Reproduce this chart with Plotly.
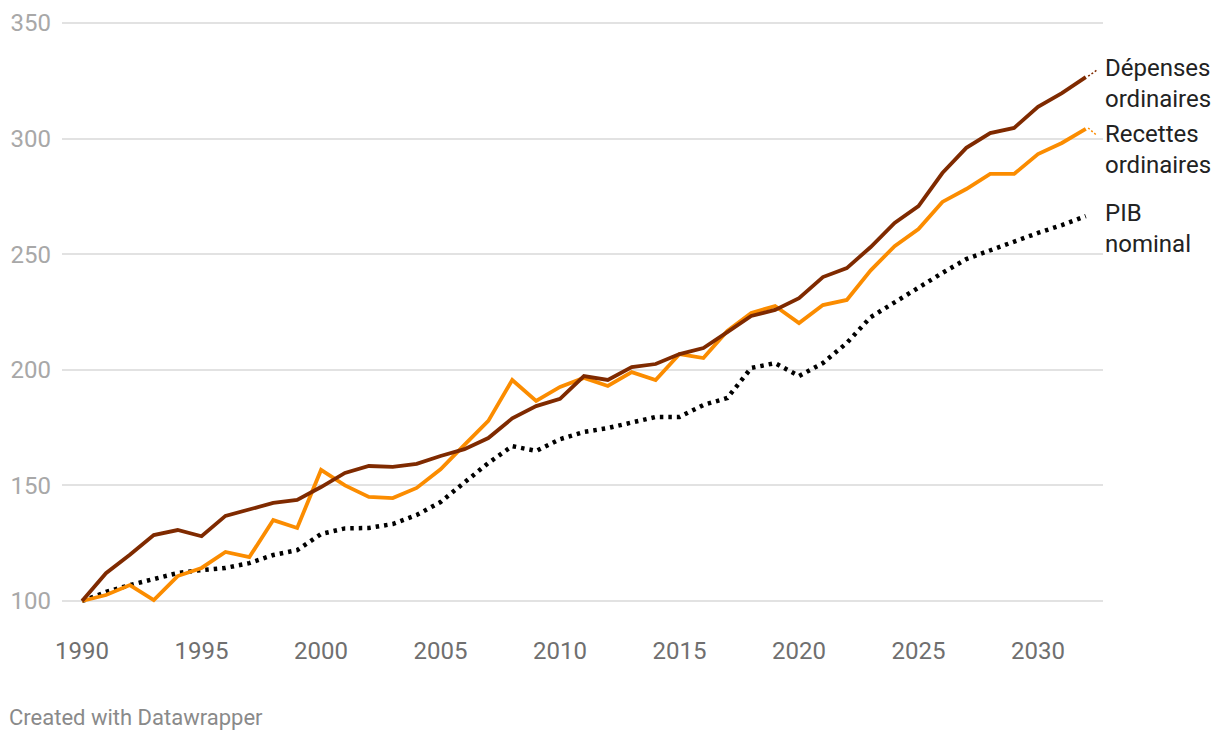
import plotly.graph_objects as go

years = list(range(1990, 2033))

depenses = [100, 112, 120, 128.5, 130.7, 128, 136.8, 139.8, 142.4, 143.7,
            149.3, 155.4, 158.4, 158, 159.3, 162.7, 165.7, 170.5, 179, 184.3,
            187.4, 197.3, 195.6, 201.2, 202.5, 206.8, 209.4, 216.3, 223.3, 225.9,
            231, 240.1, 244, 253.1, 263.5, 270.8, 285.1, 296, 302.4, 304.6,
            313.7, 319.7, 326.6]

recettes = [100, 102.6, 106.9, 100.4, 110.8, 114.3, 121.2, 119, 135, 131.6,
            156.7, 150, 145, 144.5, 148.9, 157, 167.5, 177.9, 195.6, 186.5,
            192.6, 196.5, 193, 199, 195.6, 206.8, 205.1, 216.8, 224.6, 227.6,
            220.2, 228, 230.2, 243, 253.5, 260.9, 272.6, 278.2, 284.7, 284.7,
            293.3, 298.1, 304.2]

pib = [100, 103.9, 106.9, 109.5, 112.1, 113.4, 114.3, 116.4, 119.9, 122,
       129, 131.4, 131.6, 133.3, 137.2, 142.8, 151.5, 159.7, 167, 164.9,
       170, 173.1, 174.8, 177.4, 179.6, 179.6, 184.8, 187.8, 200.8, 202.9,
       197.3, 202.9, 211.6, 222.8, 229.3, 235.4, 241.9, 247.9, 251.8, 255.3,
       259.2, 262.6, 266.5]

series_names = ["Dépenses<br>ordinaires", "Recettes<br>ordinaires", "PIB<br>nominal"]
label_y = [324, 295.5, 261.2]

y_ticks = [100, 150, 200, 250, 300, 350]
x_ticks = [1990, 1995, 2000, 2005, 2010, 2015, 2020, 2025, 2030]

BROWN = "#7f2a00"
ORANGE = "#fb8c00"
BLACK = "#000000"

fig = go.Figure()

fig.add_trace(go.Scatter(x=years, y=pib, mode="lines",
                         line=dict(color=BLACK, width=4.5, dash="3.5px,5px"),
                         hoverinfo="skip", showlegend=False))
fig.add_trace(go.Scatter(x=years, y=recettes, mode="lines",
                         line=dict(color=ORANGE, width=3.8),
                         hoverinfo="skip", showlegend=False))
fig.add_trace(go.Scatter(x=years, y=depenses, mode="lines",
                         line=dict(color=BROWN, width=3.8),
                         hoverinfo="skip", showlegend=False))

# short connectors to the labels
for vals, col, ly in [(depenses, BROWN, 329.5), (recettes, ORANGE, 301.5)]:
    fig.add_trace(go.Scatter(x=[years[-1] + 0.1, years[-1] + 0.45], y=[vals[-1] + 0.4, ly],
                             mode="lines", line=dict(color=col, width=1.5, dash="2px,2px"),
                             hoverinfo="skip", showlegend=False))

for name, ly in zip(series_names, label_y):
    fig.add_annotation(x=1, xref="paper", y=ly, yref="y", text=name, showarrow=False,
                       xanchor="left", yanchor="middle", align="left", xshift=0,
                       font=dict(family="Roboto", size=24, color="#222222"))

fig.add_annotation(x=0, xref="paper", y=0, yref="paper", text="Created with Datawrapper",
                   showarrow=False, xanchor="left", yanchor="middle",
                   xshift=-55, yshift=-111,
                   font=dict(family="Roboto", size=22, color="#8a8a8a"))

fig.update_layout(
    width=1220, height=740,
    margin=dict(l=54, r=125, t=10, b=142),
    paper_bgcolor="white", plot_bgcolor="white",
    font=dict(family="Roboto"),
    xaxis=dict(range=[1989.16, 2032.72], tickvals=x_ticks, showgrid=False, zeroline=False,
               showline=False, ticks="", ticklabelstandoff=28, automargin=False,
               tickfont=dict(family="Roboto", size=24, color="#6f6f6f")),
    yaxis=dict(range=[97.84, 352.16], tickvals=y_ticks, showgrid=True, gridcolor="#e2e2e2",
               gridwidth=1.5, zeroline=False, showline=False, ticks="", ticklabelstandoff=10,
               automargin=False,
               tickfont=dict(family="Roboto", size=24, color="#a8a8a8")),
)

fig.write_html("out.html")
